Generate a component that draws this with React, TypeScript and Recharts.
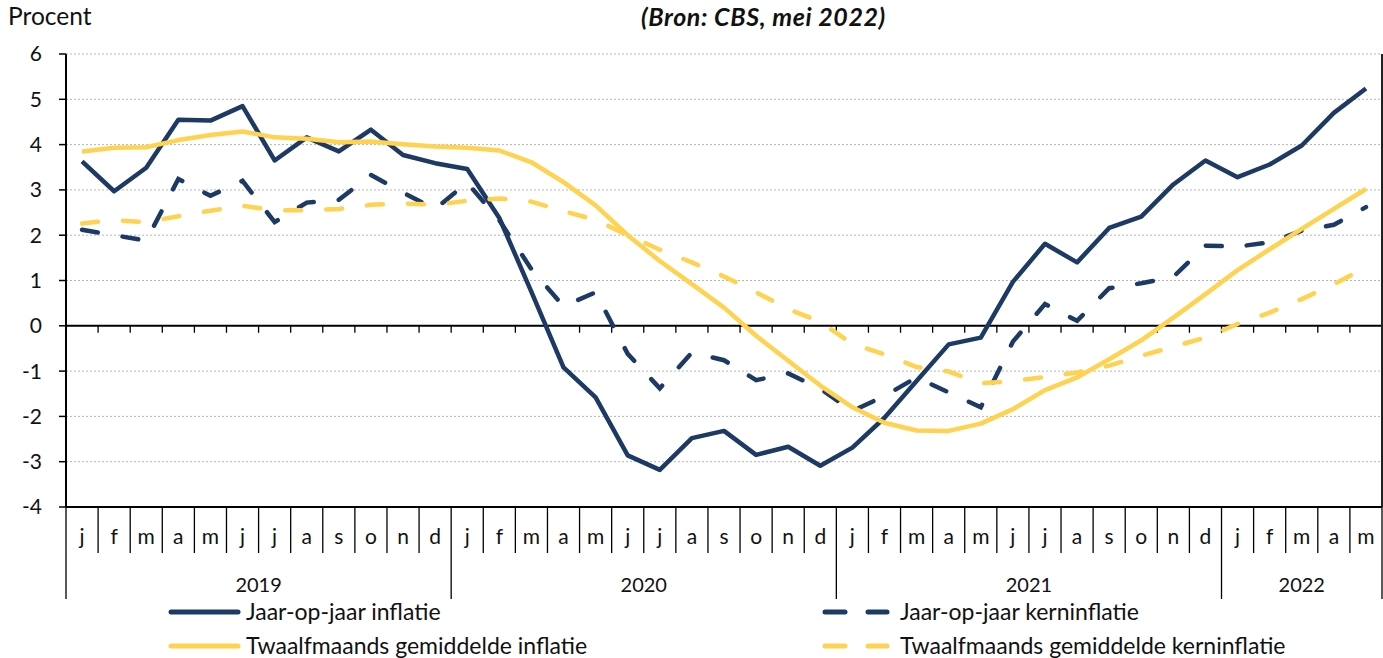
import React from 'react';
import { LineChart, Line, XAxis, YAxis, CartesianGrid, ReferenceLine, Legend } from 'recharts';

const monthLabels = ['j', 'f', 'm', 'a', 'm', 'j', 'j', 'a', 's', 'o', 'n', 'd'];
const yearLabels = ['2019', '2020', '2021', '2022'];
const monthsPerYear = [12, 12, 12, 5];
const yTicks = [-4, -3, -2, -1, 0, 1, 2, 3, 4, 5, 6];

const jaarOpJaarInflatie = [
  3.63, 2.97, 3.49, 4.55, 4.53, 4.85, 3.65, 4.16, 3.85, 4.33, 3.77, 3.59,
  3.46, 2.38, 0.75, -0.92, -1.58, -2.86, -3.18, -2.48, -2.32, -2.85, -2.67, -3.09,
  -2.69, -2.03, -1.22, -0.41, -0.26, 0.97, 1.81, 1.4, 2.16, 2.41, 3.12, 3.65,
  3.28, 3.56, 3.98, 4.7, 5.24,
];
const jaarOpJaarKerninflatie = [
  2.12, 2.0, 1.88, 3.24, 2.87, 3.2, 2.29, 2.72, 2.78, 3.33, 2.94, 2.58,
  3.16, 2.33, 1.25, 0.43, 0.74, -0.62, -1.38, -0.59, -0.76, -1.2, -1.05, -1.39,
  -1.88, -1.55, -1.14, -1.47, -1.8, -0.35, 0.48, 0.11, 0.83, 0.94, 1.08, 1.77,
  1.75, 1.84, 2.1, 2.23, 2.62,
];
const twaalfmaandsInflatie = [
  3.85, 3.93, 3.94, 4.1, 4.21, 4.29, 4.16, 4.13, 4.05, 4.07, 4.01, 3.96,
  3.93, 3.87, 3.61, 3.17, 2.66, 2.0, 1.43, 0.92, 0.4, -0.22, -0.77, -1.32,
  -1.8, -2.14, -2.31, -2.32, -2.16, -1.84, -1.42, -1.14, -0.74, -0.32, 0.18, 0.7,
  1.23, 1.69, 2.14, 2.58, 3.02,
];
const twaalfmaandsKerninflatie = [
  2.26, 2.33, 2.29, 2.42, 2.54, 2.65, 2.55, 2.55, 2.58, 2.67, 2.7, 2.67,
  2.76, 2.81, 2.74, 2.53, 2.34, 2.0, 1.68, 1.4, 1.09, 0.74, 0.37, 0.09,
  -0.4, -0.63, -0.91, -1.01, -1.27, -1.22, -1.13, -1.03, -0.88, -0.66, -0.46, -0.26,
  0.04, 0.29, 0.59, 0.92, 1.29,
];

const seriesNames = [
  'Jaar-op-jaar inflatie',
  'Jaar-op-jaar kerninflatie',
  'Twaalfmaands gemiddelde inflatie',
  'Twaalfmaands gemiddelde kerninflatie',
];

const NAVY = '#1c3a64';
const YELLOW = '#ffd24f';
const FONT = 'Lato, "Open Sans", sans-serif';

type Cat = { key: string; month: string; year: string; monthIdx: number; yearIdx: number };
const categories: Cat[] = [];
yearLabels.forEach((y, yi) => {
  for (let m = 0; m < monthsPerYear[yi]; m++) {
    categories.push({ key: `${y}-${m + 1}`, month: monthLabels[m], year: y, monthIdx: m, yearIdx: yi });
  }
});

const data = categories.map((c, i) => ({
  key: c.key,
  jj: jaarOpJaarInflatie[i],
  jjk: jaarOpJaarKerninflatie[i],
  tm: twaalfmaandsInflatie[i],
  tmk: twaalfmaandsKerninflatie[i],
}));

const W = 1383;
const H = 658;
const LEFT_W = 66;
const RIGHT_W = 1;
const TOP = 54;
const BOTTOM_H = 151;
const PLOT_W = W - LEFT_W - RIGHT_W;
const BAND = PLOT_W / categories.length;

const MonthTick = (props: any) => {
  const { x, y, payload } = props;
  const idx = categories.findIndex((c) => c.key === payload.value);
  if (idx < 0) return null;
  const c = categories[idx];
  const left = x - BAND / 2;
  const yearStart = c.monthIdx === 0;
  const isLast = idx === categories.length - 1;
  return (
    <g>
      <line x1={left} x2={left} y1={y} y2={y + (yearStart ? 92 : 46)} stroke="#000" strokeWidth={1.3} />
      {isLast && <line x1={x + BAND / 2} x2={x + BAND / 2} y1={y} y2={y + 92} stroke="#000" strokeWidth={1.3} />}
      <text x={x} y={y + 37} textAnchor="middle" fontSize={21} fontFamily={FONT} fill="#111">
        {c.month}
      </text>
      {yearStart && (
        <text
          x={left + (monthsPerYear[c.yearIdx] * BAND) / 2}
          y={y + 85}
          textAnchor="middle"
          fontSize={20}
          fontFamily={FONT}
          fill="#111"
        >
          {c.year}
        </text>
      )}
    </g>
  );
};

const ZeroLine = (props: any) => {
  const { x1, x2, y1 } = props;
  const n = categories.length;
  const band = (x2 - x1) / n;
  const ticks = [];
  for (let k = 1; k < n; k++) {
    ticks.push(<line key={k} x1={x1 + k * band} x2={x1 + k * band} y1={y1} y2={y1 + 7} stroke="#000" strokeWidth={1.3} />);
  }
  return (
    <g>
      <line x1={x1} x2={x2} y1={y1} y2={y1} stroke="#000" strokeWidth={2} />
      {ticks}
    </g>
  );
};

const LegendContent = () => {
  const rowH = 34;
  const item = (i: number, color: string, dashed: boolean, col: number, row: number) => {
    const left = col === 0 ? 166 : 818;
    const textLeft = col === 0 ? 246 : 900;
    return (
      <div key={i} style={{ position: 'absolute', left: 0, top: row * rowH, width: W, height: rowH }}>
        <svg style={{ position: 'absolute', left, top: 0 }} width={80} height={rowH}>
          {dashed ? (
            <>
              <line x1={7} x2={27} y1={rowH / 2} y2={rowH / 2} stroke={color} strokeWidth={5} strokeLinecap="round" />
              <line x1={50} x2={69} y1={rowH / 2} y2={rowH / 2} stroke={color} strokeWidth={5} strokeLinecap="round" />
            </>
          ) : (
            <line x1={5} x2={72} y1={rowH / 2} y2={rowH / 2} stroke={color} strokeWidth={5} strokeLinecap="round" />
          )}
        </svg>
        <span
          style={{
            position: 'absolute',
            left: textLeft,
            top: -1,
            lineHeight: `${rowH}px`,
            fontSize: 23,
            fontFamily: FONT,
            color: '#111',
            whiteSpace: 'nowrap',
          }}
        >
          {seriesNames[i]}
        </span>
      </div>
    );
  };
  return (
    <div style={{ position: 'relative', width: W, height: 2 * rowH }}>
      {item(0, NAVY, false, 0, 0)}
      {item(1, NAVY, true, 1, 0)}
      {item(2, YELLOW, false, 0, 1)}
      {item(3, YELLOW, true, 1, 1)}
    </div>
  );
};

export default function App() {
  return (
    <div style={{ position: 'absolute', left: 0, top: 0, width: W, height: H, background: '#fff' }}>
      <div style={{ position: 'absolute', left: 8, top: 1, fontSize: 24.5, fontFamily: FONT, color: '#111' }}>Procent</div>
      <div
        style={{
          position: 'absolute',
          left: 641,
          top: 1,
          fontSize: 25,
          lineHeight: '30px',
          letterSpacing: 0.6,
          fontFamily: FONT,
          fontWeight: 'bold',
          fontStyle: 'italic',
          color: '#111',
          whiteSpace: 'nowrap',
        }}
      >
        (Bron: CBS, mei 2022)
      </div>
      <LineChart width={W} height={H} data={data} margin={{ top: TOP, right: 0, bottom: 0, left: 0 }}>
        <CartesianGrid vertical={false} stroke="#b5b5b5" strokeDasharray="2 2" />
        <XAxis
          dataKey="key"
          xAxisId={0}
          height={BOTTOM_H}
          interval={0}
          padding={{ left: BAND / 2, right: BAND / 2 }}
          axisLine={{ stroke: '#000', strokeWidth: 2 }}
          tickLine={false}
          tickSize={0}
          tickMargin={0}
          tick={<MonthTick />}
        />
        <XAxis
          dataKey="key"
          xAxisId="top"
          orientation="top"
          height={0}
          padding={{ left: BAND / 2, right: BAND / 2 }}
          axisLine={{ stroke: '#222', strokeWidth: 2 }}
          tickLine={false}
          tick={false}
        />
        <YAxis
          yAxisId={0}
          width={LEFT_W}
          domain={[-4, 6]}
          ticks={yTicks}
          interval={0}
          axisLine={{ stroke: '#000', strokeWidth: 2 }}
          tickLine={{ stroke: '#000', strokeWidth: 1.5 }}
          tickSize={7}
          tickMargin={17}
          tick={{ fontSize: 21, fontFamily: FONT, fill: '#111' }}
        />
        <YAxis
          yAxisId="right"
          orientation="right"
          width={RIGHT_W}
          domain={[-4, 6]}
          axisLine={{ stroke: '#222', strokeWidth: 2 }}
          tickLine={false}
          tick={false}
        />
        <ReferenceLine y={0} yAxisId={0} xAxisId={0} shape={<ZeroLine />} />
        <Line
          dataKey="jj"
          name={seriesNames[0]}
          stroke={NAVY}
          strokeWidth={4.5}
          dot={false}
          strokeLinejoin="round"
          isAnimationActive={false}
        />
        <Line
          dataKey="jjk"
          name={seriesNames[1]}
          stroke={NAVY}
          strokeWidth={4.5}
          strokeDasharray="16 25"
          strokeLinecap="round"
          dot={false}
          isAnimationActive={false}
        />
        <Line
          dataKey="tm"
          name={seriesNames[2]}
          stroke={YELLOW}
          strokeWidth={4.5}
          dot={false}
          strokeLinejoin="round"
          isAnimationActive={false}
        />
        <Line
          dataKey="tmk"
          name={seriesNames[3]}
          stroke={YELLOW}
          strokeWidth={4.5}
          strokeDasharray="16 25"
          strokeLinecap="round"
          dot={false}
          isAnimationActive={false}
        />
        <Legend
          layout="horizontal"
          verticalAlign="middle"
          align="center"
          content={<LegendContent />}
          wrapperStyle={{ position: 'absolute', top: 595, left: 0, width: W, height: 68 }}
        />
      </LineChart>
    </div>
  );
}
